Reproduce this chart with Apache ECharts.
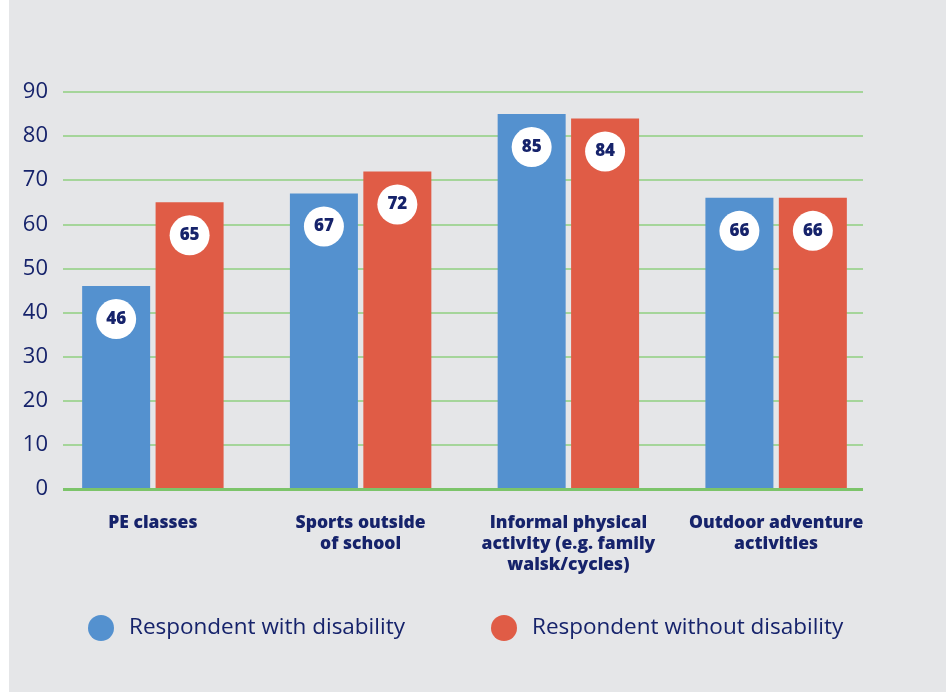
<!DOCTYPE html>
<html>
<head>
<meta charset="utf-8">
<script src="https://cdn.jsdelivr.net/npm/echarts@6/dist/echarts.min.js"></script>
<style>
  html, body { margin: 0; padding: 0; background: #ffffff; }
  #chart { width: 946px; height: 692px; }
</style>
</head>
<body>
<div id="chart"></div>
<script>
// Share of respondents taking part in each kind of activity (%)
const categories = [
  'PE classes',
  'Sports outside\nof school',
  'Informal physical\nactivity (e.g. family\nwalsk/cycles)',
  'Outdoor adventure\nactivities'
];
const withDisability = [46, 67, 85, 66];
const withoutDisability = [65, 72, 84, 66];
const seriesNames = ['Respondent with disability', 'Respondent without disability'];
const yTicks = { min: 0, max: 90, interval: 10 };

const NAVY = '#16236b';
const BLUE = '#5491cf';
const RED = '#e05c46';
const GREEN = '#8fcf80';
const FONT = '"Open Sans", "Noto Sans", sans-serif';

const valueLabel = {
  show: true,
  position: 'insideTop',
  distance: 13,
  width: 40,
  height: 40,
  lineHeight: 40,
  align: 'center',
  backgroundColor: '#ffffff',
  borderRadius: 20,
  color: NAVY,
  fontFamily: FONT,
  fontWeight: 800,
  fontSize: 17
};

const legendText = { color: NAVY, fontFamily: FONT, fontSize: 22.5, padding: [0, 0, 0, 10] };

const chart = echarts.init(document.getElementById('chart'), null, { renderer: 'canvas' });
chart.setOption({
  backgroundColor: '#ffffff',
  animation: false,
  graphic: [{
    type: 'rect', z: -10, silent: true,
    shape: { x: 9, y: 0, width: 937, height: 692 },
    style: { fill: '#e5e6e8' }
  }],
  legend: [
    {
      left: 83, top: 610, itemWidth: 26, itemHeight: 26, icon: 'circle',
      data: [seriesNames[0]], textStyle: legendText
    },
    {
      left: 486, top: 610, itemWidth: 26, itemHeight: 26, icon: 'circle',
      data: [seriesNames[1]], textStyle: legendText
    }
  ],
  grid: [
    // gridlines and value axis
    { left: 63, right: 83, top: 92, bottom: 203, containLabel: false },
    // bars
    { left: 49, right: 66, top: 92, bottom: 203, containLabel: false }
  ],
  xAxis: [
    { gridIndex: 0, type: 'category', data: categories, show: false },
    {
      gridIndex: 1, type: 'category', data: categories,
      axisLine: { show: false }, axisTick: { show: false },
      axisLabel: {
        interval: 0, margin: 24, color: NAVY, fontFamily: FONT,
        fontWeight: 800, fontSize: 17.5, lineHeight: 21, align: 'center'
      }
    }
  ],
  yAxis: [
    {
      gridIndex: 0, type: 'value', min: yTicks.min, max: yTicks.max, interval: yTicks.interval,
      axisLine: { show: false }, axisTick: { show: false },
      axisLabel: { color: NAVY, fontFamily: FONT, fontSize: 22, margin: 15 },
      splitLine: { lineStyle: { color: GREEN, width: 1.5 } }
    },
    {
      gridIndex: 1, type: 'value', min: yTicks.min, max: yTicks.max, interval: yTicks.interval,
      show: false, splitLine: { show: false }
    }
  ],
  series: [
    {
      // baseline at zero, drawn across the gridline area
      type: 'line', xAxisIndex: 0, yAxisIndex: 0, data: [],
      markLine: {
        silent: true, symbol: 'none', label: { show: false },
        lineStyle: { color: '#7cc46a', width: 3, type: 'solid' },
        data: [{ yAxis: 0 }]
      },
      z: 5
    },
    {
      name: seriesNames[0], type: 'bar', xAxisIndex: 1, yAxisIndex: 1,
      data: withDisability, barWidth: 68, barGap: '8%',
      itemStyle: { color: BLUE }, label: valueLabel, z: 3
    },
    {
      name: seriesNames[1], type: 'bar', xAxisIndex: 1, yAxisIndex: 1,
      data: withoutDisability, barWidth: 68, barGap: '8%',
      itemStyle: { color: RED }, label: valueLabel, z: 3
    }
  ]
});
</script>
</body>
</html>
